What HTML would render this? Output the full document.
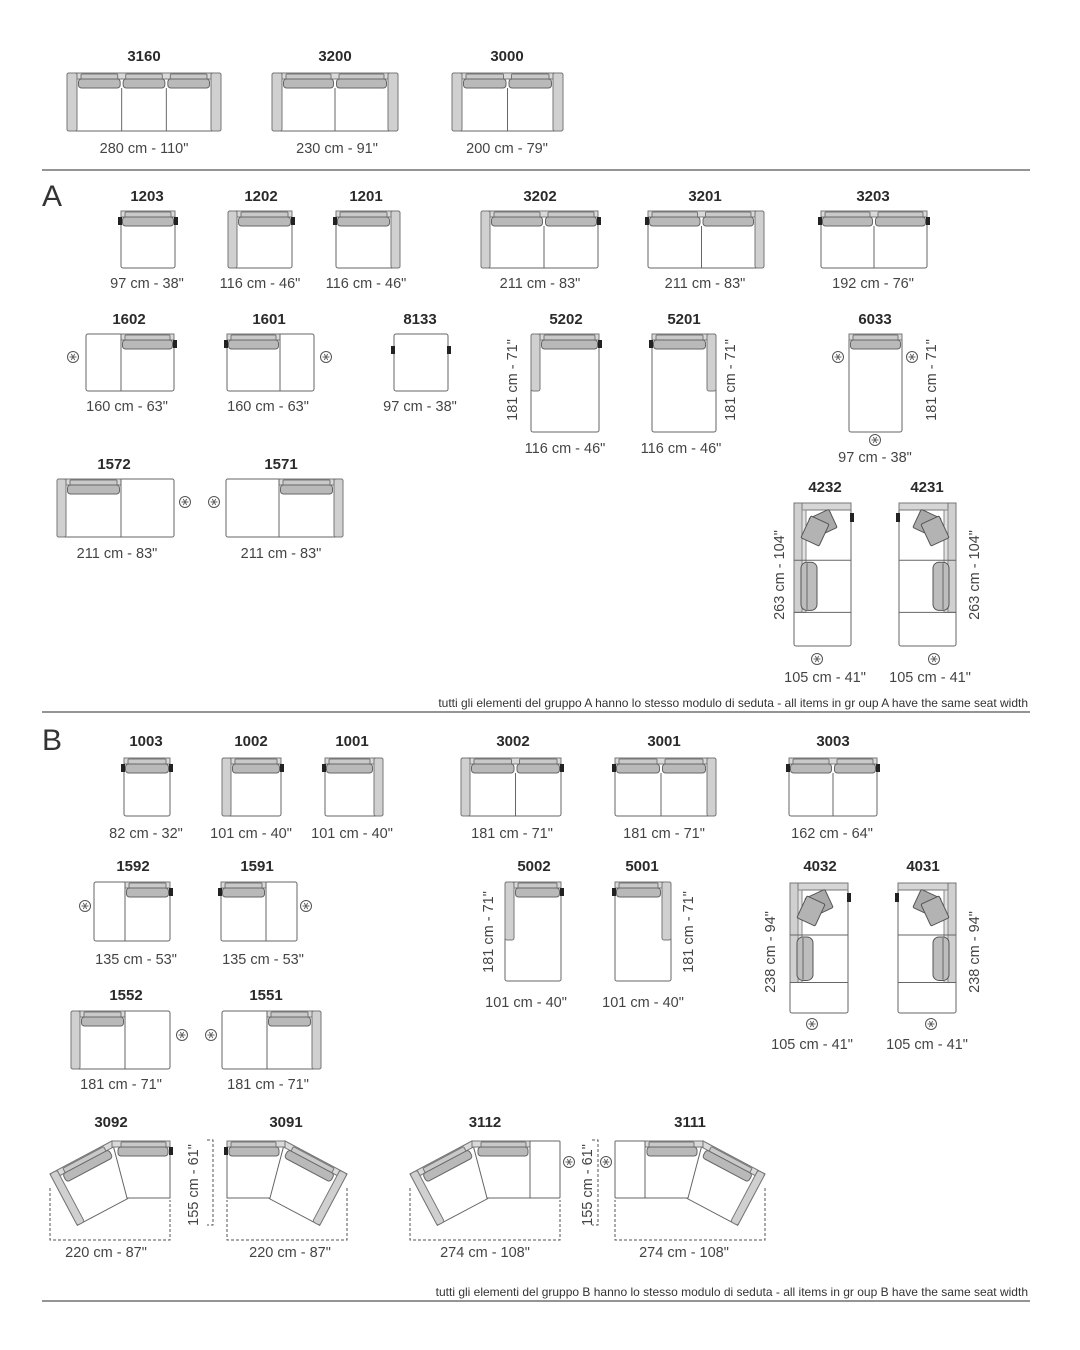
<!DOCTYPE html>
<html><head><meta charset="utf-8"><style>
body{margin:0;background:#fff}
svg{display:block}
text{font-family:"Liberation Sans",sans-serif}
.l{font-size:15px;font-weight:bold;fill:#2a2a2a;text-anchor:middle}
.d{font-size:14.5px;fill:#444;text-anchor:middle}
.n{font-size:12px;fill:#333;text-anchor:end}
.big{font-size:30px;fill:#333}
</style></head><body>
<svg id="s" width="1080" height="1350" viewBox="0 0 1080 1350" xmlns="http://www.w3.org/2000/svg">
<g id="g"></g>
<line x1="42" y1="170" x2="1030" y2="170" stroke="#555" stroke-width="1.2"/>
<line x1="42" y1="712" x2="1030" y2="712" stroke="#555" stroke-width="1.2"/>
<line x1="42" y1="1301" x2="1030" y2="1301" stroke="#555" stroke-width="1.2"/>
<text class="big" x="42" y="206">A</text>
<text class="big" x="42" y="750">B</text>
<g class="l">
<text x="144" y="61">3160</text><text x="335" y="61">3200</text><text x="507" y="61">3000</text>
<text x="147" y="201">1203</text><text x="261" y="201">1202</text><text x="366" y="201">1201</text><text x="540" y="201">3202</text><text x="705" y="201">3201</text><text x="873" y="201">3203</text>
<text x="129" y="324">1602</text><text x="269" y="324">1601</text><text x="420" y="324">8133</text><text x="566" y="324">5202</text><text x="684" y="324">5201</text><text x="875" y="324">6033</text>
<text x="114" y="469">1572</text><text x="281" y="469">1571</text>
<text x="825" y="492">4232</text><text x="927" y="492">4231</text>
<text x="146" y="746">1003</text><text x="251" y="746">1002</text><text x="352" y="746">1001</text><text x="513" y="746">3002</text><text x="664" y="746">3001</text><text x="833" y="746">3003</text>
<text x="133" y="871">1592</text><text x="257" y="871">1591</text><text x="534" y="871">5002</text><text x="642" y="871">5001</text><text x="820" y="871">4032</text><text x="923" y="871">4031</text>
<text x="126" y="1000">1552</text><text x="266" y="1000">1551</text>
<text x="111" y="1127">3092</text><text x="286" y="1127">3091</text><text x="485" y="1127">3112</text><text x="690" y="1127">3111</text>
</g>
<g class="d">
<text x="144" y="153">280 cm - 110"</text><text x="337" y="153">230 cm - 91"</text><text x="507" y="153">200 cm - 79"</text>
<text x="147" y="288">97 cm - 38"</text><text x="260" y="288">116 cm - 46"</text><text x="366" y="288">116 cm - 46"</text><text x="540" y="288">211 cm - 83"</text><text x="705" y="288">211 cm - 83"</text><text x="873" y="288">192 cm - 76"</text>
<text x="127" y="411">160 cm - 63"</text><text x="268" y="411">160 cm - 63"</text><text x="420" y="411">97 cm - 38"</text>
<text x="565" y="453">116 cm - 46"</text><text x="681" y="453">116 cm - 46"</text><text x="875" y="462">97 cm - 38"</text>
<text x="117" y="558">211 cm - 83"</text><text x="281" y="558">211 cm - 83"</text>
<text x="825" y="682">105 cm - 41"</text><text x="930" y="682">105 cm - 41"</text>
<text x="146" y="838">82 cm - 32"</text><text x="251" y="838">101 cm - 40"</text><text x="352" y="838">101 cm - 40"</text><text x="512" y="838">181 cm - 71"</text><text x="664" y="838">181 cm - 71"</text><text x="832" y="838">162 cm - 64"</text>
<text x="136" y="964">135 cm - 53"</text><text x="263" y="964">135 cm - 53"</text>
<text x="526" y="1007">101 cm - 40"</text><text x="643" y="1007">101 cm - 40"</text>
<text x="812" y="1049">105 cm - 41"</text><text x="927" y="1049">105 cm - 41"</text>
<text x="121" y="1089">181 cm - 71"</text><text x="268" y="1089">181 cm - 71"</text>
<text x="106" y="1257">220 cm - 87"</text><text x="290" y="1257">220 cm - 87"</text><text x="485" y="1257">274 cm - 108"</text><text x="684" y="1257">274 cm - 108"</text>
<text transform="translate(517,380) rotate(-90)">181 cm - 71"</text>
<text transform="translate(735,380) rotate(-90)">181 cm - 71"</text>
<text transform="translate(936,380) rotate(-90)">181 cm - 71"</text>
<text transform="translate(784,575) rotate(-90)">263 cm - 104"</text>
<text transform="translate(979,575) rotate(-90)">263 cm - 104"</text>
<text transform="translate(493,932) rotate(-90)">181 cm - 71"</text>
<text transform="translate(693,932) rotate(-90)">181 cm - 71"</text>
<text transform="translate(775,952) rotate(-90)">238 cm - 94"</text>
<text transform="translate(979,952) rotate(-90)">238 cm - 94"</text>
<text transform="translate(198,1185) rotate(-90)">155 cm - 61"</text>
<text transform="translate(592,1185) rotate(-90)">155 cm - 61"</text>
</g>
<text class="n" x="1028" y="707">tutti gli elementi  del gruppo A hanno lo stesso modulo di  seduta  -  all items in gr oup A have the same seat width</text>
<text class="n" x="1028" y="1296">tutti gli elementi  del gruppo B hanno lo stesso modulo di  seduta  -  all items in gr oup B have the same seat width</text>
</svg>
<script>
var NS="http://www.w3.org/2000/svg",G=document.getElementById('g');
function el(t,a,p){var e=document.createElementNS(NS,t);for(var k in a)e.setAttribute(k,a[k]);(p||G).appendChild(e);return e;}
function R(x,y,w,h,f,s,rx,p){return el('rect',{x:x,y:y,width:w,height:h,fill:f,stroke:s||'none','stroke-width':1,rx:rx||0},p);}
function L(x1,y1,x2,y2,p,st){return el('line',{x1:x1,y1:y1,x2:x2,y2:y2,stroke:'#666','stroke-width':1,'stroke-dasharray':st||''},p);}
function cushions(s0,s1,y,p){R(s0+4,y+1,s1-s0-8,6,'#c9c9c9','#777',1,p);R(s0+1.5,y+6,s1-s0-3,9,'#b9b9b9','#666',3,p);}
function sofa(x,y,w,h,o){o=o||{};var a=o.a||9,p=o.p;
 R(x,y,w,h,'#fff','#666',2,p);
 var ix=x+(o.L?a:0),ex=x+w-(o.R?a:0);
 var bk=o.bk||[ix,ex],n=o.n||1;
 R(bk[0],y,bk[1]-bk[0],6,'#dadada','#777',0,p);
 var sw=(bk[1]-bk[0])/n;
 for(var i=0;i<n;i++)cushions(bk[0]+i*sw,bk[0]+(i+1)*sw,y,p);
 for(i=1;i<n;i++)L(bk[0]+i*sw,y+15,bk[0]+i*sw,y+h,p);
 (o.divs||[]).forEach(function(d){L(d,y+(d>bk[0]&&d<bk[1]?15:0),d,y+h,p);});
 if(o.L)R(x,y,a,o.Lh||h,'#d0d0d0','#777',2,p);
 if(o.R)R(x+w-a,y,a,o.Rh||h,'#d0d0d0','#777',2,p);
 if(o.cL)R(x-3,y+6,4,8,'#222',0,0,p);
 if(o.cR)R(x+w-1,y+6,4,8,'#222',0,0,p);
}
function ast(x,y){el('circle',{cx:x,cy:y,r:5.5,fill:'#fff',stroke:'#555','stroke-width':1});
 for(var i=0;i<3;i++){var an=Math.PI*i/3,dx=3.5*Math.cos(an),dy=3.5*Math.sin(an);L(x-dx,y-dy,x+dx,y+dy);}}
sofa(67,73,154,58,{L:1,R:1,n:3,a:10});
sofa(272,73,126,58,{L:1,R:1,n:2,a:10});
sofa(452,73,111,58,{L:1,R:1,n:2,a:10});
sofa(121,211,54,57,{cL:1,cR:1});
sofa(228,211,64,57,{L:1,cR:1});
sofa(336,211,64,57,{R:1,cL:1});
sofa(481,211,117,57,{L:1,n:2,cR:1});
sofa(648,211,116,57,{R:1,n:2,cL:1});
sofa(821,211,106,57,{n:2,cL:1,cR:1});
sofa(86,334,88,57,{bk:[121,174],divs:[121],cR:1});
sofa(227,334,87,57,{bk:[227,280],divs:[280],cL:1});
R(394,334,54,57,'#fff','#666',2);R(391,346,4,8,'#222');R(447,346,4,8,'#222');
sofa(531,334,68,98,{L:1,Lh:57,cR:1});
sofa(652,334,64,98,{R:1,Rh:57,cL:1});
sofa(849,334,53,98,{});
sofa(57,479,117,58,{L:1,bk:[66,121],divs:[121]});
sofa(226,479,117,58,{R:1,bk:[279,334],divs:[279]});
sofa(124,758,46,58,{cL:1,cR:1});
sofa(222,758,59,58,{L:1,cR:1});
sofa(325,758,58,58,{R:1,cL:1});
sofa(461,758,100,58,{L:1,n:2,cR:1});
sofa(615,758,101,58,{R:1,n:2,cL:1});
sofa(789,758,88,58,{n:2,cL:1,cR:1});
sofa(94,882,76,59,{bk:[125,170],divs:[125],cR:1});
sofa(221,882,76,59,{bk:[221,266],divs:[266],cL:1});
sofa(505,882,56,99,{L:1,Lh:58,cR:1});
sofa(615,882,56,99,{R:1,Rh:58,cL:1});
sofa(71,1011,99,58,{L:1,bk:[80,125],divs:[125]});
sofa(222,1011,99,58,{R:1,bk:[267,312],divs:[267]});
function corner(x,y,w,h,mir){var p=el('g',mir?{transform:'translate('+(2*mir)+',0) scale(-1,1)'}:{});
 var d1=y+h*0.4,d2=y+h*0.765;
 R(x,y,w,h,'#fff','#666',2,p);
 R(x,y,w,7,'#d6d6d6','#777',0,p);
 R(x,y,8,d2-y,'#d0d0d0','#777',1,p);
 R(x+8,y+7,4,d2-y-7,'#e2e2e2','#888',0,p);
 L(x,d1,x+w,d1,p);L(x,d2,x+w,d2,p);
 el('rect',{x:-11,y:-10,width:22,height:20,fill:'#a9a9a9',stroke:'#555',rx:1.5,transform:'translate('+(x+29)+','+(y+20)+') rotate(-25)'},p);
 el('rect',{x:-10,y:-12,width:20,height:24,fill:'#b3b3b3',stroke:'#555',rx:1.5,transform:'translate('+(x+21)+','+(y+28)+') rotate(25)'},p);
 R(x+7,d1+2,16,d2-d1-4,'#bdbdbd','#555',6,p);L(x+13,d1+3,x+13,d2-3,p);
 R(x+w-1,y+10,4,9,'#222',0,0,p);}
corner(794,503,57,143,0);corner(794,503,57,143,875);
corner(790,883,58,130,0);corner(790,883,58,130,873);
ast(73,357);ast(326,357);ast(838,357);ast(912,357);ast(875,440);ast(185,502);ast(214,502);
ast(817,659);ast(934,659);ast(85,906);ast(306,906);ast(182,1035);ast(211,1035);ast(812,1024);ast(931,1024);ast(569,1162);ast(606,1162);
function angled(dx,mir,extra){var tr='translate('+dx+',0)';if(mir)tr='translate('+(2*mir)+',0) scale(-1,1) '+tr;
 var p=el('g',{transform:tr});
 var q=el('g',{transform:'matrix(-0.886,0.471,0.471,0.886,112,1141)'},p);
 el('polygon',{points:'0,0 70,0 70,58 13,58',fill:'#fff',stroke:'#666'},q);
 R(0,0,62,6,'#dadada','#777',0,q);
 R(10,1,46,6,'#c9c9c9','#777',1,q);R(7,6,52,9,'#b9b9b9','#666',3,q);
 R(62,0,8,58,'#d0d0d0','#777',2,q);
 el('polygon',{points:'112,1141 170,1141 170,1198 127,1198',fill:'#fff',stroke:'#666'},p);
 R(112,1141,58,6,'#dadada','#777',0,p);
 R(121,1142,45,6,'#c9c9c9','#777',1,p);R(118,1147,50,9,'#b9b9b9','#666',3,p);
 if(extra)R(170,1141,30,57,'#fff','#666',1,p);else R(169,1147,4,8,'#222',0,0,p);
 var ex=extra?200:170;
 el('path',{d:'M50,1188V1240H'+ex+'V1200',fill:'none',stroke:'#555','stroke-dasharray':'3,2'},p);}
angled(0,0,0);angled(0,198.5,0);angled(360,0,1);angled(360,587.5,1);
el('path',{d:'M207,1140H213V1225H207',fill:'none',stroke:'#555','stroke-dasharray':'3,2'});
el('path',{d:'M592,1140H598V1225H592',fill:'none',stroke:'#555','stroke-dasharray':'3,2'});
</script>
</body></html>
